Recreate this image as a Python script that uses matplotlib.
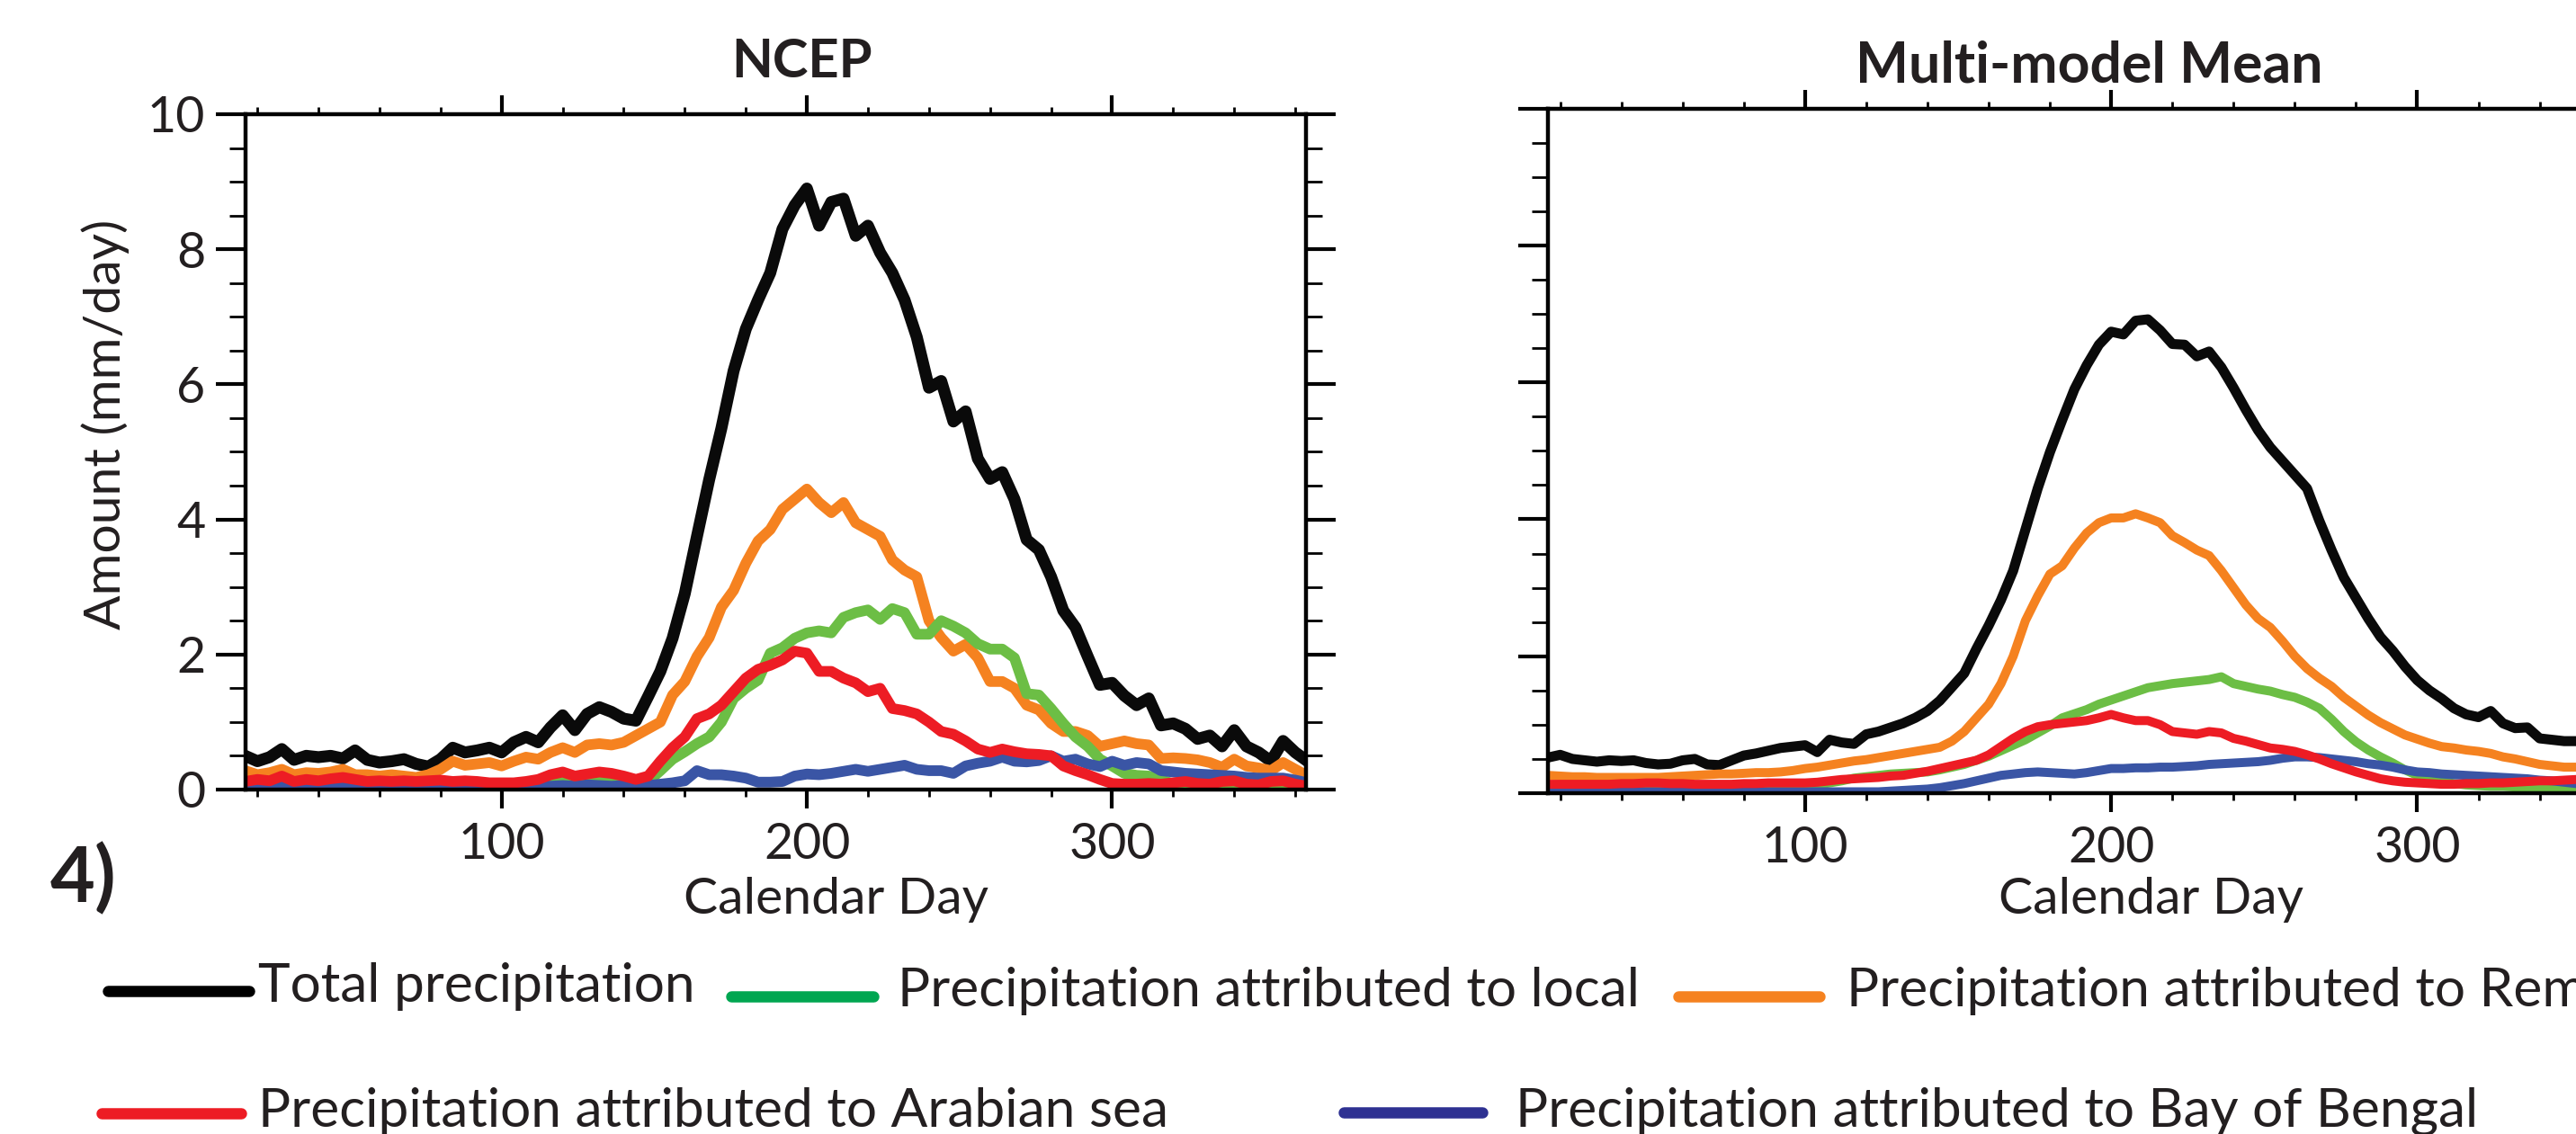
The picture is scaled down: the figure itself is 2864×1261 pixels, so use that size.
import numpy as np
import matplotlib.pyplot as plt
from matplotlib.lines import Line2D
from matplotlib.ticker import MultipleLocator

plt.rcParams['font.family'] = ['Lato', 'DejaVu Sans']

# calendar days, read every 4 days off the curves
days = np.arange(16, 365, 4)

# NCEP (mm/day)
ncep_total = [0.50, 0.42, 0.48, 0.60, 0.44, 0.50, 0.48, 0.50, 0.46, 0.58,
              0.44, 0.40, 0.42, 0.45, 0.38, 0.34, 0.45, 0.62, 0.55, 0.58,
              0.62, 0.55, 0.70, 0.78, 0.70, 0.92, 1.10, 0.88, 1.12, 1.22,
              1.15, 1.05, 1.02, 1.38, 1.75, 2.24, 2.90, 3.75, 4.59, 5.35,
              6.20, 6.82, 7.25, 7.65, 8.30, 8.65, 8.90, 8.35, 8.70, 8.75,
              8.20, 8.35, 7.95, 7.65, 7.25, 6.70, 5.95, 6.05, 5.45, 5.60,
              4.90, 4.60, 4.70, 4.30, 3.70, 3.55, 3.15, 2.65, 2.40, 1.97,
              1.55, 1.58, 1.39, 1.25, 1.35, 0.95, 0.98, 0.90, 0.75, 0.80,
              0.64, 0.88, 0.64, 0.55, 0.42, 0.72, 0.55, 0.42]
ncep_local = [0.04, 0.03, 0.04, 0.05, 0.03, 0.04, 0.03, 0.04, 0.05, 0.03,
              0.03, 0.02, 0.03, 0.02, 0.02, 0.03, 0.04, 0.05, 0.05, 0.06,
              0.06, 0.07, 0.07, 0.08, 0.08, 0.10, 0.12, 0.11, 0.12, 0.13,
              0.12, 0.11, 0.10, 0.12, 0.28, 0.45, 0.56, 0.68, 0.78, 1.00,
              1.35, 1.50, 1.62, 2.02, 2.10, 2.24, 2.32, 2.35, 2.32, 2.55,
              2.62, 2.66, 2.52, 2.68, 2.62, 2.30, 2.30, 2.50, 2.42, 2.32,
              2.16, 2.08, 2.08, 1.95, 1.42, 1.40, 1.20, 0.98, 0.78, 0.64,
              0.45, 0.35, 0.24, 0.21, 0.20, 0.15, 0.08, 0.05, 0.05, 0.04,
              0.04, 0.04, 0.03, 0.03, 0.03, 0.03, 0.03, 0.03]
ncep_remote = [0.28, 0.22, 0.25, 0.30, 0.22, 0.25, 0.24, 0.26, 0.30, 0.22,
               0.22, 0.20, 0.22, 0.20, 0.18, 0.22, 0.30, 0.42, 0.36, 0.38,
               0.40, 0.35, 0.42, 0.48, 0.45, 0.55, 0.62, 0.55, 0.66, 0.68,
               0.66, 0.70, 0.80, 0.90, 1.00, 1.40, 1.60, 1.97, 2.25, 2.70,
               2.95, 3.35, 3.68, 3.85, 4.15, 4.30, 4.45, 4.25, 4.10, 4.25,
               3.95, 3.85, 3.75, 3.40, 3.25, 3.15, 2.50, 2.25, 2.05, 2.15,
               1.95, 1.60, 1.60, 1.50, 1.25, 1.18, 0.98, 0.86, 0.86, 0.80,
               0.64, 0.68, 0.72, 0.68, 0.66, 0.46, 0.47, 0.46, 0.44, 0.40,
               0.33, 0.45, 0.35, 0.32, 0.28, 0.40, 0.30, 0.20]
ncep_arabian = [0.12, 0.15, 0.13, 0.20, 0.12, 0.15, 0.13, 0.16, 0.18, 0.15,
                0.12, 0.13, 0.12, 0.13, 0.12, 0.13, 0.14, 0.12, 0.13, 0.12,
                0.10, 0.10, 0.10, 0.12, 0.15, 0.22, 0.26, 0.20, 0.23, 0.26,
                0.24, 0.20, 0.15, 0.20, 0.42, 0.62, 0.78, 1.05, 1.12, 1.25,
                1.45, 1.65, 1.78, 1.84, 1.92, 2.05, 2.02, 1.75, 1.75, 1.65,
                1.58, 1.45, 1.50, 1.20, 1.17, 1.12, 1.00, 0.86, 0.82, 0.72,
                0.60, 0.55, 0.60, 0.56, 0.53, 0.52, 0.50, 0.35, 0.28, 0.22,
                0.15, 0.09, 0.08, 0.08, 0.09, 0.08, 0.10, 0.12, 0.09, 0.08,
                0.12, 0.13, 0.08, 0.07, 0.12, 0.13, 0.08, 0.05]
ncep_bengal = [0.03, 0.02, 0.03, 0.04, 0.03, 0.02, 0.03, 0.04, 0.03, 0.02,
               0.02, 0.03, 0.02, 0.03, 0.04, 0.03, 0.02, 0.04, 0.06, 0.08,
               0.07, 0.05, 0.04, 0.05, 0.06, 0.05, 0.06, 0.05, 0.07, 0.06,
               0.05, 0.06, 0.05, 0.06, 0.08, 0.10, 0.13, 0.28, 0.22, 0.22,
               0.20, 0.17, 0.11, 0.11, 0.12, 0.20, 0.23, 0.22, 0.24, 0.27,
               0.30, 0.27, 0.30, 0.33, 0.36, 0.30, 0.28, 0.28, 0.24, 0.35,
               0.39, 0.42, 0.48, 0.42, 0.41, 0.43, 0.50, 0.42, 0.45, 0.38,
               0.34, 0.42, 0.36, 0.40, 0.38, 0.28, 0.26, 0.24, 0.23, 0.22,
               0.21, 0.20, 0.18, 0.17, 0.17, 0.17, 0.14, 0.10]

# Multi-model mean (mm/day)
mmm_total = [0.52, 0.56, 0.50, 0.48, 0.46, 0.48, 0.47, 0.48, 0.44, 0.42,
             0.43, 0.48, 0.50, 0.42, 0.41, 0.48, 0.55, 0.58, 0.62, 0.66,
             0.68, 0.70, 0.60, 0.78, 0.74, 0.72, 0.86, 0.90, 0.96, 1.02,
             1.10, 1.20, 1.35, 1.55, 1.75, 2.11, 2.45, 2.82, 3.25, 3.85,
             4.45, 4.98, 5.45, 5.90, 6.25, 6.55, 6.74, 6.70, 6.90, 6.92,
             6.76, 6.56, 6.55, 6.38, 6.45, 6.22, 5.92, 5.60, 5.30, 5.05,
             4.85, 4.65, 4.45, 3.98, 3.55, 3.15, 2.85, 2.55, 2.28, 2.08,
             1.85, 1.65, 1.50, 1.38, 1.24, 1.15, 1.11, 1.20, 1.02, 0.95,
             0.96, 0.80, 0.78, 0.76, 0.76, 0.72, 0.70, 0.68]
mmm_local = [0.10, 0.10, 0.09, 0.09, 0.09, 0.09, 0.09, 0.10, 0.10, 0.10,
             0.10, 0.10, 0.10, 0.10, 0.10, 0.11, 0.11, 0.11, 0.11, 0.11,
             0.12, 0.12, 0.12, 0.15, 0.18, 0.22, 0.24, 0.26, 0.28, 0.29,
             0.30, 0.31, 0.34, 0.38, 0.42, 0.48, 0.54, 0.62, 0.70, 0.78,
             0.88, 0.98, 1.10, 1.16, 1.22, 1.30, 1.36, 1.42, 1.48, 1.54,
             1.57, 1.60, 1.62, 1.64, 1.66, 1.70, 1.60, 1.56, 1.52, 1.49,
             1.44, 1.40, 1.33, 1.24, 1.08, 0.90, 0.75, 0.63, 0.53, 0.44,
             0.34, 0.26, 0.21, 0.17, 0.14, 0.12, 0.11, 0.10, 0.10, 0.09,
             0.08, 0.08, 0.07, 0.06, 0.05, 0.05, 0.05, 0.05]
mmm_remote = [0.26, 0.25, 0.24, 0.24, 0.23, 0.23, 0.23, 0.23, 0.23, 0.23,
              0.24, 0.25, 0.26, 0.27, 0.28, 0.28, 0.29, 0.30, 0.30, 0.31,
              0.33, 0.36, 0.38, 0.41, 0.44, 0.47, 0.49, 0.52, 0.55, 0.58,
              0.61, 0.64, 0.67, 0.76, 0.90, 1.10, 1.30, 1.60, 2.00, 2.52,
              2.88, 3.20, 3.32, 3.58, 3.80, 3.95, 4.02, 4.02, 4.08, 4.02,
              3.95, 3.76, 3.66, 3.55, 3.47, 3.25, 3.00, 2.75, 2.55, 2.42,
              2.22, 2.00, 1.82, 1.68, 1.56, 1.40, 1.27, 1.14, 1.03, 0.94,
              0.85, 0.79, 0.73, 0.68, 0.66, 0.63, 0.61, 0.58, 0.53, 0.50,
              0.46, 0.42, 0.40, 0.38, 0.38, 0.36, 0.35, 0.34]
mmm_arabian = [0.13, 0.13, 0.13, 0.13, 0.13, 0.13, 0.14, 0.14, 0.15, 0.15,
               0.14, 0.14, 0.13, 0.13, 0.13, 0.13, 0.14, 0.14, 0.15, 0.15,
               0.15, 0.15, 0.16, 0.18, 0.20, 0.21, 0.22, 0.23, 0.25, 0.26,
               0.29, 0.32, 0.36, 0.40, 0.44, 0.48, 0.56, 0.68, 0.80, 0.90,
               0.97, 1.00, 1.02, 1.04, 1.06, 1.10, 1.15, 1.10, 1.06, 1.06,
               1.00, 0.90, 0.88, 0.86, 0.90, 0.88, 0.80, 0.76, 0.71, 0.66,
               0.64, 0.61, 0.56, 0.50, 0.43, 0.37, 0.31, 0.26, 0.21, 0.18,
               0.16, 0.15, 0.14, 0.13, 0.13, 0.14, 0.14, 0.15, 0.15, 0.16,
               0.17, 0.18, 0.18, 0.19, 0.20, 0.20, 0.20, 0.20]
mmm_bengal = [0.02, 0.02, 0.02, 0.02, 0.02, 0.02, 0.02, 0.02, 0.02, 0.02,
              0.02, 0.02, 0.02, 0.02, 0.02, 0.02, 0.02, 0.02, 0.02, 0.02,
              0.02, 0.02, 0.02, 0.02, 0.02, 0.02, 0.02, 0.02, 0.03, 0.04,
              0.05, 0.06, 0.08, 0.11, 0.14, 0.18, 0.22, 0.26, 0.28, 0.30,
              0.31, 0.30, 0.29, 0.28, 0.30, 0.33, 0.36, 0.36, 0.37, 0.37,
              0.38, 0.38, 0.39, 0.40, 0.42, 0.43, 0.44, 0.45, 0.46, 0.48,
              0.51, 0.53, 0.53, 0.52, 0.50, 0.48, 0.46, 0.43, 0.41, 0.38,
              0.34, 0.31, 0.30, 0.28, 0.27, 0.26, 0.25, 0.24, 0.23, 0.22,
              0.21, 0.19, 0.18, 0.16, 0.14, 0.13, 0.12, 0.12]

labels = ['Total precipitation',
          'Precipitation attributed to local',
          'Precipitation attributed to Remote',
          'Precipitation attributed to Arabian sea',
          'Precipitation attributed to Bay of Bengal']
titles = ['NCEP', 'Multi-model Mean']

txt = '#231f20'
c_total = '#0a0a0a'
c_local = '#6cbe45'
c_remote = '#f58220'
c_arab = '#ed1c24'
c_bengal = '#3a55a5'

W, H = 2864, 1261
fig = plt.figure(figsize=(W / 100, H / 100), dpi=100)

def px(x, y):
    # pixel position (from top left) -> figure fraction
    return x / W, 1 - y / H

ax1 = fig.add_axes([272.6 / W, 1 - 878 / H, 1179.4 / W, 751 / H])
ax2 = fig.add_axes([1721 / W, 1 - 882 / H, 1182.6 / W, 761.4 / H])

panels = [(ax1, ncep_total, ncep_local, ncep_remote, ncep_arabian, ncep_bengal, 9.5),
          (ax2, mmm_total, mmm_local, mmm_remote, mmm_arabian, mmm_bengal, 8.0)]

for ax, tot, loc, rem, arb, bob, lw in panels:
    ax.plot(days, tot, color=c_total, lw=lw, solid_joinstyle='round')
    ax.plot(days, rem, color=c_remote, lw=lw * 0.9, solid_joinstyle='round')
    ax.plot(days, loc, color=c_local, lw=lw * 0.9, solid_joinstyle='round')
    ax.plot(days, bob, color=c_bengal, lw=lw * 0.9, solid_joinstyle='round')
    ax.plot(days, arb, color=c_arab, lw=lw * 0.9, solid_joinstyle='round')
    ax.set_xlim(16, 363.5)
    ax.set_ylim(0, 10)
    ax.xaxis.set_major_locator(MultipleLocator(100))
    ax.xaxis.set_minor_locator(MultipleLocator(20))
    ax.yaxis.set_major_locator(MultipleLocator(2))
    ax.yaxis.set_minor_locator(MultipleLocator(0.5))
    for s in ax.spines.values():
        s.set_linewidth(3.2)
        s.set_color('black')
    ax.tick_params(axis='x', which='major', direction='out', length=15, width=3,
                   top=True, pad=11, labelsize=40, labelcolor=txt)
    ax.tick_params(axis='x', which='minor', direction='out', length=6, width=2,
                   top=True)
    ax.tick_params(axis='y', which='major', direction='out', length=24, width=3,
                   right=True, pad=8, labelsize=40, labelcolor=txt)
    ax.tick_params(axis='y', which='minor', direction='out', length=13, width=2,
                   right=True)
    ax.set_xticks([100, 200, 300])
    ax.set_xticklabels(['100', '200', '300'])

ax1.set_yticks([0, 2, 4, 6, 8, 10])
ax1.set_yticklabels(['0', '2', '4', '6', '8', '10'])
ax2.tick_params(axis='y', labelleft=False)

# titles and axis labels
tfont = dict(family=['Liberation Sans Narrow', 'Lato'], weight='bold', color=txt)
fig.text(*px(892, 69), titles[0], ha='center', va='center', fontsize=43, **tfont)
fig.text(*px(2323, 73), titles[1], ha='center', va='center', fontsize=45, **tfont)
fig.text(*px(93, 978), '4)', ha='center', va='center', fontsize=62, **tfont)

fig.text(*px(117, 472), 'Amount (mm/day)', rotation=90, ha='center', va='center',
         fontsize=41, color=txt)
fig.text(*px(929, 1000), 'Calendar Day', ha='center', va='center', fontsize=41, color=txt)
fig.text(*px(2392, 1000), 'Calendar Day', ha='center', va='center', fontsize=41, color=txt)

# legend, laid out by hand as in the source figure
legend_items = [
    (labels[0], '#000000', 120, 277, 1102, 287, 1097),
    (labels[1], '#00a651', 813, 971, 1108, 998, 1102),
    (labels[2], c_remote, 1866, 2023, 1108, 2053, 1102),
    (labels[3], c_arab, 113, 268, 1238, 287, 1236),
    (labels[4], '#2e3192', 1494, 1648, 1237, 1685, 1236),
]
for lab, col, x0, x1, yl, xt, yt in legend_items:
    fx0, fy = px(x0, yl)
    fx1, _ = px(x1, yl)
    fig.add_artist(Line2D([fx0, fx1], [fy, fy], transform=fig.transFigure,
                          color=col, lw=9, solid_capstyle='round'))
    fig.text(*px(xt, yt), lab, ha='left', va='center', fontsize=43.5, color=txt)

fig.savefig('out.png', dpi=100)
